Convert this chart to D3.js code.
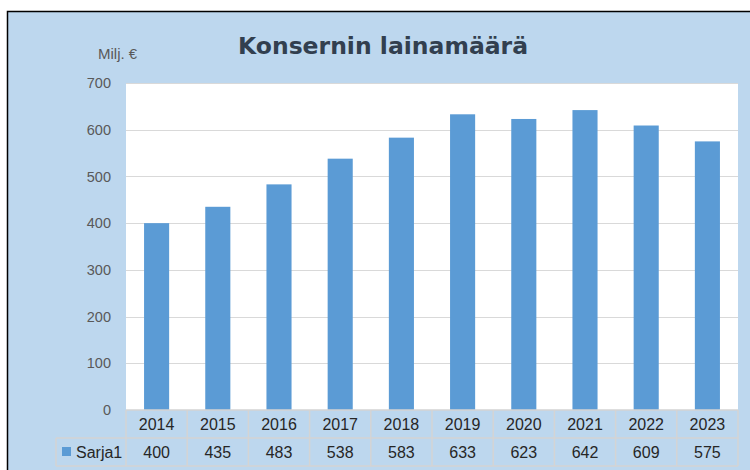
<!DOCTYPE html>
<html>
<head>
<meta charset="utf-8">
<script src="https://cdn.jsdelivr.net/npm/d3@7"></script>
<style>
  body { margin: 0; background: #fff; }
  svg { display: block; }
</style>
</head>
<body>
<svg class="chart-svg" width="750" height="470"></svg>
<script>
const years = ['2014', '2015', '2016', '2017', '2018', '2019', '2020', '2021', '2022', '2023']
const loans = [400, 435, 483, 538, 583, 633, 623, 642, 609, 575]
const yTicks = [0, 100, 200, 300, 400, 500, 600, 700]
const seriesName = 'Sarja1'
const title = 'Konsernin lainamäärä'
const unit = 'Milj. €'

const svg = d3.select('.chart-svg')
const plot = { left: 126, right: 738, top: 83, bottom: 410 }
const rowH = 28
const font = 'Liberation Sans, Arial, sans-serif'

// chart area with the black frame on top and left
svg.append('rect')
  .attr('x', 7).attr('y', 11).attr('width', 743).attr('height', 459)
  .attr('fill', '#bdd7ee')
svg.append('path')
  .attr('d', 'M7.5,470V11.5H750')
  .attr('fill', 'none').attr('stroke', '#000').attr('stroke-width', 1.5)

const x = d3.scaleBand().domain(years).range([plot.left, plot.right]).paddingInner(0.59).paddingOuter(0.295)
const xCol = d3.scaleBand().domain(years).range([plot.left, plot.right])
const y = d3.scaleLinear().domain([0, 700]).range([plot.bottom, plot.top])

svg.append('rect')
  .attr('x', plot.left).attr('y', plot.top)
  .attr('width', plot.right - plot.left).attr('height', plot.bottom - plot.top)
  .attr('fill', '#fff')

// gridlines
svg.append('g')
  .selectAll('line')
  .data(yTicks.filter(d => d > 0))
  .join('line')
  .attr('x1', plot.left).attr('x2', plot.right)
  .attr('y1', d => Math.round(y(d)) + 0.5).attr('y2', d => Math.round(y(d)) + 0.5)
  .attr('stroke', '#d9d9d9')

// y axis labels
const yAxis = svg.append('g')
  .attr('class', 'y axis')
  .attr('transform', `translate(${plot.left - 15},0)`)
  .call(d3.axisLeft(y).tickValues(yTicks).tickSize(0).tickPadding(0))
yAxis.select('.domain').remove()
yAxis.selectAll('text')
  .attr('fill', '#595959')
  .style('font-family', font)
  .style('font-size', '14.5px')

// bars
svg.append('g')
  .selectAll('rect')
  .data(years.map((yr, i) => ({ yr, v: loans[i] })))
  .join('rect')
  .attr('x', d => x(d.yr))
  .attr('y', d => y(d.v))
  .attr('width', x.bandwidth())
  .attr('height', d => y(0) - y(d.v))
  .attr('fill', '#5b9bd5')

// data table
const table = svg.append('g').attr('class', 'data-table')
const gridColor = '#d4d4d4'
const legendLeft = 56
table.append('path')
  .attr('d', [
    `M${plot.left},${plot.bottom}H${plot.right}`,
    `M${legendLeft},${plot.bottom + rowH}H${plot.right}`,
    `M${legendLeft},${plot.bottom + 2 * rowH}H${plot.right}`,
    `M${legendLeft},${plot.bottom + rowH}V${plot.bottom + 2 * rowH}`
  ].join(''))
  .attr('stroke', gridColor).attr('stroke-width', 1.5).attr('fill', 'none')
table.selectAll('.col-line')
  .data(years.concat(['end']))
  .join('line')
  .attr('class', 'col-line')
  .attr('x1', d => d === 'end' ? plot.right : xCol(d))
  .attr('x2', d => d === 'end' ? plot.right : xCol(d))
  .attr('y1', plot.bottom).attr('y2', plot.bottom + 2 * rowH)
  .attr('stroke', gridColor).attr('stroke-width', 1.5)

table.selectAll('.year-label')
  .data(years)
  .join('text')
  .attr('class', 'year-label')
  .attr('x', d => xCol(d) + xCol.bandwidth() / 2)
  .attr('y', plot.bottom + rowH / 2)
  .attr('dy', '.35em')
  .attr('text-anchor', 'middle')
  .attr('fill', '#262626')
  .style('font-family', font)
  .style('font-size', '16px')
  .text(d => d)

table.selectAll('.value-label')
  .data(years.map((yr, i) => ({ yr, v: loans[i] })))
  .join('text')
  .attr('class', 'value-label')
  .attr('x', d => xCol(d.yr) + xCol.bandwidth() / 2)
  .attr('y', plot.bottom + rowH * 1.5)
  .attr('dy', '.35em')
  .attr('text-anchor', 'middle')
  .attr('fill', '#262626')
  .style('font-family', font)
  .style('font-size', '16px')
  .text(d => d.v)

// legend key inside the table
table.append('rect')
  .attr('x', 62).attr('y', plot.bottom + rowH * 1.5 - 5)
  .attr('width', 9).attr('height', 9)
  .attr('fill', '#5b9bd5')
table.append('text')
  .attr('x', 76).attr('y', plot.bottom + rowH * 1.5)
  .attr('dy', '.35em')
  .attr('fill', '#262626')
  .style('font-family', font)
  .style('font-size', '16px')
  .text(seriesName)

// unit label and title
svg.append('text')
  .attr('x', 98).attr('y', 59)
  .attr('fill', '#595959')
  .style('font-family', font)
  .style('font-size', '15px')
  .text(unit)

svg.append('text')
  .attr('x', 383).attr('y', 54)
  .attr('text-anchor', 'middle')
  .attr('fill', '#323f4f')
  .style('font-family', 'DejaVu Sans, Verdana, sans-serif')
  .style('font-weight', 'bold')
  .style('font-size', '23.5px')
  .text(title)
</script>
</body>
</html>
